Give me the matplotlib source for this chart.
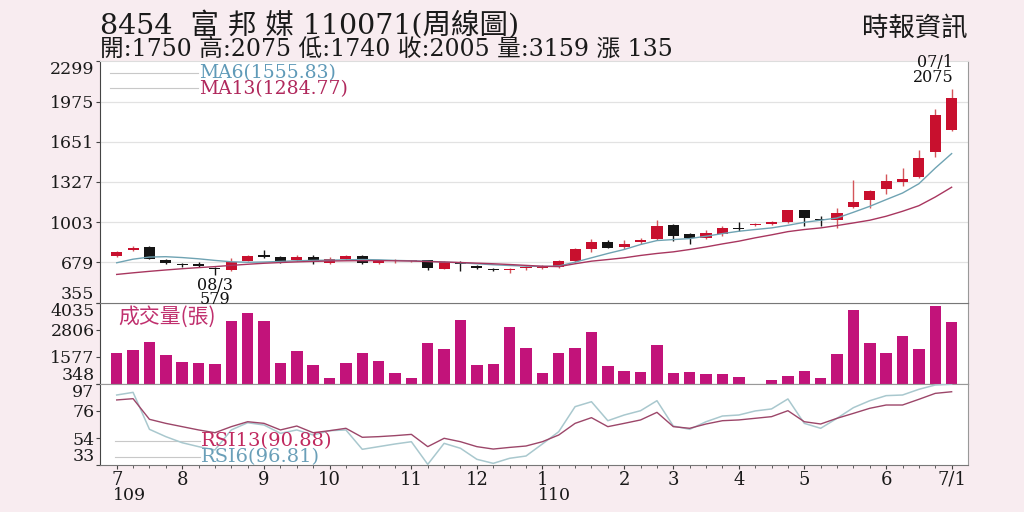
import numpy as np
import matplotlib
matplotlib.use('Agg')
from matplotlib import pyplot as plt
from matplotlib.transforms import blended_transform_factory

plt.rcParams['font.family'] = ['DejaVu Serif', 'Noto Sans CJK TC']

#####  weekly data, 8454 (109/07 - 110/07/1)

opens  = [729, 777, 804, 702, 670, 665, 635, 617, 692, 735,
          721, 697, 724, 676, 710, 729, 678, 689, 688, 697,
          627, 684, 649, 627, 617, 630, 635, 643, 689, 788,
          842, 807, 844, 868, 978, 909, 877, 909, 951, 981,
          992, 1005, 1099, 1029, 1024, 1126, 1179, 1270, 1329, 1367,
          1568, 1750]
highs  = [768, 810, 812, 710, 676, 680, 640, 716, 742, 777,
          729, 735, 735, 724, 740, 735, 702, 708, 697, 702,
          692, 692, 660, 635, 636, 649, 656, 700, 792, 871,
          857, 863, 876, 1024, 989, 917, 939, 970, 1005, 997,
          1013, 1105, 1104, 1050, 1118, 1340, 1265, 1394, 1439, 1581,
          1914, 2075]
lows   = [722, 772, 705, 665, 643, 643, 579, 606, 687, 718,
          672, 689, 670, 670, 700, 668, 670, 678, 683, 617,
          622, 609, 622, 609, 595, 614, 627, 637, 681, 761,
          793, 783, 828, 863, 850, 828, 869, 890, 930, 976,
          981, 997, 976, 976, 957, 1118, 1118, 1233, 1292, 1359,
          1528, 1740]
closes = [761, 796, 708, 676, 657, 649, 622, 681, 729, 721,
          684, 724, 681, 708, 729, 676, 692, 694, 690, 630,
          681, 668, 633, 617, 622, 635, 648, 689, 783, 842,
          798, 828, 860, 970, 890, 877, 917, 957, 949, 992,
          1002, 1099, 1037, 1019, 1078, 1163, 1252, 1337, 1351, 1517,
          1868, 2005]

volumes = [1773, 1877, 2250, 1652, 1351, 1321, 1261, 3180, 3571, 3195,
           1306, 1846, 1186, 631, 1321, 1773, 1411, 843, 604, 2223,
           1935, 3240, 1202, 1261, 2942, 1998, 843, 1755, 1967, 2717,
           1171, 932, 872, 2133, 829, 872, 812, 782, 663, 300,
           541, 721, 932, 604, 1710, 3706, 2205, 1773, 2506, 1952,
           3886, 3159]

ma6  = [676, 705, 722, 725, 718, 708, 695, 684, 680, 682,
        687, 692, 695, 697, 700, 702, 700, 695, 692, 688,
        682, 676, 668, 660, 654, 649, 646, 650, 681, 716,
        751, 783, 823, 855, 863, 871, 890, 911, 930, 944,
        957, 978, 1002, 1019, 1037, 1083, 1131, 1185, 1238, 1313,
        1439, 1555.83]
ma13 = [582, 595, 607, 618, 628, 637, 645, 655, 664, 672,
        678, 683, 687, 690, 692, 693, 693, 692, 690, 686,
        682, 678, 673, 668, 662, 655, 648, 645, 668, 689,
        702, 716, 735, 751, 764, 783, 804, 828, 850, 877,
        901, 927, 944, 957, 976, 997, 1019, 1051, 1091, 1136,
        1206, 1284.77]

rsi6  = [88.3, 90.4, 61.2, 55.4, 50.6, 47.5, 44.9, 60.7, 66.4, 64.6,
         58.0, 60.7, 56.7, 60.1, 60.7, 45.4, 47.5, 49.6, 51.4, 33.5,
         50.1, 46.2, 37.5, 34.3, 38.3, 40.1, 49.6, 59.3, 79.1, 83.0,
         68.0, 72.5, 75.9, 83.8, 63.8, 61.2, 67.2, 71.7, 72.5, 75.7,
         77.3, 85.2, 65.9, 62.0, 69.9, 78.3, 83.8, 87.8, 88.3, 92.8,
         96.2, 96.81]
rsi13 = [84.4, 85.4, 69.1, 65.9, 63.3, 60.7, 58.5, 63.3, 67.2, 65.9,
         60.7, 63.8, 58.5, 60.1, 62.0, 54.9, 55.4, 56.2, 57.2, 47.5,
         54.1, 51.4, 47.5, 45.6, 46.9, 48.0, 51.4, 56.7, 65.9, 70.4,
         63.3, 65.9, 68.6, 74.6, 63.3, 62.0, 65.4, 68.0, 68.6, 69.9,
         71.2, 75.9, 67.2, 65.4, 69.9, 73.8, 77.8, 80.4, 80.4, 84.9,
         89.6, 90.88]

price_ticks = [355, 679, 1003, 1327, 1651, 1975, 2299]
vol_ticks = [348, 1577, 2806, 4035]
rsi_ticks = [33, 54, 76, 97]

month_pos = [0, 4, 9, 13, 18, 22, 26, 31, 34, 38, 42, 47, 51]
month_lbl = ['7', '8', '9', '10', '11', '12', '1', '2', '3', '4', '5', '6', '7/1']
year_pos = [0, 26]
year_lbl = ['109', '110']

low_date = '08/3'
high_date = '07/1'

title1 = '8454  富 邦 媒 110071(周線圖)'
title2 = '開:1750 高:2075 低:1740 收:2005 量:3159 漲 135'
source = '時報資訊'

#####

opens = np.array(opens); closes = np.array(closes)
highs = np.array(highs); lows = np.array(lows)
xs = np.arange(len(opens))

bg = '#f8ecf0'
red = '#c8102e'
blk = '#151515'
mag = '#c2137a'
c_ma6 = '#6fa3b3'
c_ma13 = '#a8365f'
c_rsi6 = '#a9c8ce'
c_rsi13 = '#9c4669'
fs = 12.5

fig = plt.figure(figsize=(10.24, 5.12), dpi=100, facecolor=bg)

L, W = 100/1024, 868/1024
ax1 = fig.add_axes([L, 1-302.6/512, W, 241.2/512])
ax2 = fig.add_axes([L, 1-384/512, W, 81.4/512])
ax3 = fig.add_axes([L, 1-465/512, W, 81/512])
ax1.set_zorder(3)

for ax in (ax1, ax2, ax3):
    ax.set_xlim(-1.02, 52.0)
    ax.set_facecolor('white')
    ax.spines['left'].set_color('#444')
    ax.spines['right'].set_color('#999')
    ax.spines['top'].set_color('#999')
    ax.spines['bottom'].set_color('#777')
    ax.tick_params(axis='y', direction='out', length=3, width=0.8, color='#444',
                   labelsize=fs, pad=1, labelcolor='#1a1a1a')
ax1.spines['top'].set_color('#ddd')
ax1.tick_params(axis='x', bottom=False, labelbottom=False)
ax2.tick_params(axis='x', bottom=False, labelbottom=False)


def edge_labels(ax):
    labs = ax.get_yticklabels()
    labs[0].set_va('bottom')
    labs[-1].set_va('top')


##### price panel

ax1.set_ylim(355, 2299)
ax1.set_yticks(price_ticks)
edge_labels(ax1)
for p in price_ticks[1:-1]:
    ax1.axhline(p, color='#e2e2e2', lw=0.9, zorder=0)

up = closes >= opens
body_col = np.where(up, red, blk)
wick_col = np.where(up, '#d4555a', blk)
ax1.vlines(xs, lows, highs, colors=wick_col, lw=1.0, zorder=2)
body_lo = np.minimum(opens, closes)
body_h = np.maximum(np.abs(closes - opens), 10)
ax1.bar(xs, body_h, bottom=body_lo, width=0.68, color=body_col, zorder=3)

ax1.plot(xs, ma6, color=c_ma6, lw=1.0, zorder=4)
ax1.plot(xs, ma13, color=c_ma13, lw=1.0, zorder=4)

ax1.plot([0.0115, 0.113], [0.953, 0.953], transform=ax1.transAxes, color='#c8c8c8', lw=0.8)
ax1.plot([0.0115, 0.113], [0.888, 0.888], transform=ax1.transAxes, color='#c8c8c8', lw=0.8)
ax1.text(0.114, 0.953, 'MA6(%.2f)' % ma6[-1], transform=ax1.transAxes, va='center',
         color='#5f9ab8', fontsize=13.5)
ax1.text(0.114, 0.886, 'MA13(%.2f)' % ma13[-1], transform=ax1.transAxes, va='center',
         color='#b0285c', fontsize=13.5)

imin = int(np.argmin(lows))
imax = int(np.argmax(highs))
ax1.annotate('%s\n%d' % (low_date, lows[imin]), xy=(imin, lows[imin]), xytext=(0, -1.5),
             textcoords='offset points', ha='center', va='top', fontsize=11.5,
             linespacing=0.8, color='#111', zorder=5, annotation_clip=False)
ax1.annotate('%s\n%d' % (high_date, highs[imax]), xy=(imax + 0.1, highs[imax]), xytext=(0, 2.5),
             textcoords='offset points', ha='right', va='bottom', fontsize=11.5,
             linespacing=0.85, color='#111', zorder=5, annotation_clip=False)

##### volume panel

ax2.set_ylim(348, 4035)
ax2.set_yticks(vol_ticks)
edge_labels(ax2)
ax2.bar(xs, volumes, width=0.7, color=mag, zorder=2)
ax2.text(0.021, 0.83, '成交量(張)', transform=ax2.transAxes, va='center', ha='left',
         color='#c0306e', fontsize=15, family=['Noto Sans CJK TC', 'DejaVu Serif'], zorder=5)

##### rsi panel

ax3.set_ylim(33, 97)
ax3.set_yticks(rsi_ticks)
edge_labels(ax3)
ax3.plot(xs, rsi6, color=c_rsi6, lw=1.1, zorder=3)
ax3.plot(xs, rsi13, color=c_rsi13, lw=1.0, zorder=3)

ax3.plot([0.017, 0.115], [0.296, 0.296], transform=ax3.transAxes, color='#c8c8c8', lw=0.8)
ax3.plot([0.017, 0.115], [0.099, 0.099], transform=ax3.transAxes, color='#c8c8c8', lw=0.8)
ax3.text(0.116, 0.296, 'RSI13(%.2f)' % rsi13[-1], transform=ax3.transAxes, va='center',
         color='#c0285e', fontsize=14, zorder=5)
ax3.text(0.116, 0.099, 'RSI6(%.2f)' % rsi6[-1], transform=ax3.transAxes, va='center',
         color='#6a9fb8', fontsize=14, zorder=5)

ax3.set_xticks(month_pos)
ax3.set_xticklabels(month_lbl)
ax3.set_xticks(xs, minor=True)
ax3.tick_params(axis='x', which='major', direction='out', length=3, color='#444',
                labelsize=13, pad=1, labelcolor='#1a1a1a')
ax3.tick_params(axis='x', which='minor', direction='out', length=2, color='#444')

trans = blended_transform_factory(ax3.transData, fig.transFigure)
for xp, yl in zip(year_pos, year_lbl):
    ax3.text(xp - 0.25, 1 - 496/512, yl, transform=trans, ha='left', va='center',
             fontsize=12.5, color='#1a1a1a')

##### header

fig.text(100/1024, 1 - 34/512, title1, fontsize=20.5, va='baseline', color='#1a1a1a')
fig.text(100/1024, 1 - 56/512, title2, fontsize=17, va='baseline', color='#1a1a1a')
fig.text(968/1024, 1 - 28/512, source, fontsize=19, ha='right', va='center', color='#1a1a1a',
         family=['Noto Sans CJK TC', 'DejaVu Serif'])

fig.savefig('out.png', dpi=100, facecolor=bg)
